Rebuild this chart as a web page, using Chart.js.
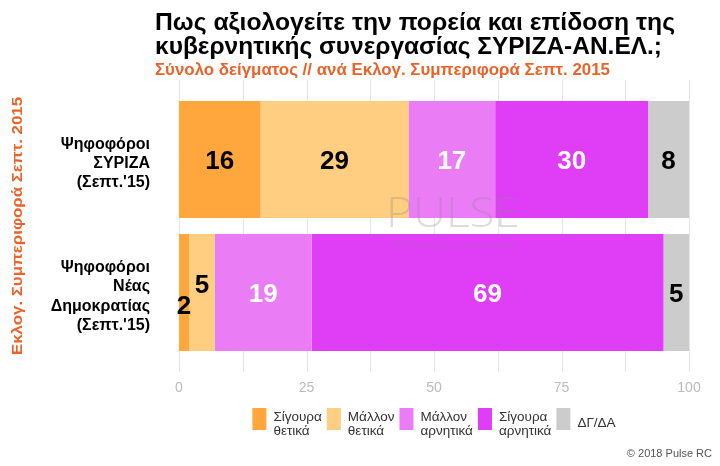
<!DOCTYPE html>
<html>
<head>
<meta charset="utf-8">
<script src="https://cdn.jsdelivr.net/npm/chart.js@4.4.0/dist/chart.umd.min.js"></script>
<style>
html,body{margin:0;padding:0;background:#fff;}
#wrap{width:720px;height:466px;position:relative;}
</style>
</head>
<body>
<div id="wrap"><canvas id="c" width="720" height="466"></canvas></div>
<script>
// ---- data ----
const categories = [
  ['Ψηφοφόροι', 'ΣΥΡΙΖΑ', "(Σεπτ.'15)"],
  ['Ψηφοφόροι', 'Νέας', 'Δημοκρατίας', "(Σεπτ.'15)"]
];
const seriesNames = [
  ['Σίγουρα', 'θετικά'],
  ['Μάλλον', 'θετικά'],
  ['Μάλλον', 'αρνητικά'],
  ['Σίγουρα', 'αρνητικά'],
  ['ΔΓ/ΔΑ']
];
const sureFavorable     = [16, 2];
const ratherFavorable   = [29, 5];
const ratherUnfavorable = [17, 19];
const sureUnfavorable   = [30, 69];
const dontKnow          = [8, 5];
const xTickLabels = [0, 25, 50, 75, 100];

const titleLines = ['Πως αξιολογείτε την πορεία και επίδοση της', 'κυβερνητικής συνεργασίας ΣΥΡΙΖΑ-ΑΝ.ΕΛ.;'];
const subtitle = 'Σύνολο δείγματος // ανά Εκλογ. Συμπεριφορά Σεπτ. 2015';
const yTitle = 'Εκλογ. Συμπεριφορά Σεπτ. 2015';
const credit = '© 2018 Pulse RC';

// ---- styles ----
const colors = ['#FFA63D', '#FFCE80', '#EA7CF6', '#E03DF6', '#CCCCCC'];
const labelColors = ['#000000', '#000000', '#FFFFFF', '#FFFFFF', '#000000'];
const FONT = '"Liberation Sans", Arial, sans-serif';
const ORANGE = '#E8642A';

const seriesValues = [sureFavorable, ratherFavorable, ratherUnfavorable, sureUnfavorable, dontKnow];

const datasets = seriesValues.map((vals, i) => ({
  label: seriesNames[i].join(' '),
  data: vals,
  backgroundColor: colors[i],
  borderWidth: 0,
  barPercentage: 0.88,
  categoryPercentage: 1.0
}));

function drawFitted(ctx, text, x, y, targetW) {
  const w = ctx.measureText(text).width;
  ctx.save();
  ctx.translate(x, y);
  ctx.scale(targetW / w, 1);
  ctx.fillText(text, 0, 0);
  ctx.restore();
}

const gridPlugin = {
  id: 'gridPlugin',
  beforeDatasetsDraw(chart) {
    const ctx = chart.ctx, xs = chart.scales.x, ca = chart.chartArea;
    const band = (ca.bottom - ca.top) / categories.length;
    const top = ca.top - 0.1 * band, bottom = ca.bottom + 0.1 * band;
    ctx.save();
    ctx.strokeStyle = '#E6E6E6';
    ctx.lineWidth = 1;
    for (let v = xs.min; v <= xs.max + 0.001; v += 12.5) {
      const x = Math.round(xs.getPixelForValue(v)) + 0.5;
      ctx.beginPath();
      ctx.moveTo(x, top);
      ctx.lineTo(x, bottom);
      ctx.stroke();
    }
    ctx.restore();
  }
};

const labelPlugin = {
  id: 'labelPlugin',
  afterDatasetsDraw(chart) {
    const ctx = chart.ctx;
    ctx.save();
    // faint watermark over bars
    ctx.fillStyle = 'rgba(140,140,140,0.3)';
    ctx.font = '300 42px "Open Sans", ' + FONT;
    ctx.textBaseline = 'alphabetic';
    ctx.textAlign = 'left';
    drawFitted(ctx, 'PULSE', 386, 227, 134);
    ctx.font = '7px ' + FONT;
    drawFitted(ctx, 'RESEARCH & CONSULTING', 390, 248, 128);

    ctx.font = 'bold 26px ' + FONT;
    ctx.textAlign = 'center';
    ctx.textBaseline = 'middle';
    chart.data.datasets.forEach((ds, di) => {
      const meta = chart.getDatasetMeta(di);
      meta.data.forEach((el, idx) => {
        const v = ds.data[idx];
        const cx = (el.x + el.base) / 2;
        let cy = el.y + 2;
        const prev = di > 0 ? chart.data.datasets[di - 1].data[idx] : 100;
        const next = di < chart.data.datasets.length - 1 ? chart.data.datasets[di + 1].data[idx] : 100;
        if (v < 6 && next < 6) cy += 12;
        else if (v < 6 && prev < 6) cy -= 9;
        ctx.fillStyle = labelColors[di];
        ctx.fillText(String(v), cx, cy);
      });
    });
    ctx.restore();
  }
};

const decorPlugin = {
  id: 'decorPlugin',
  afterDraw(chart) {
    const ctx = chart.ctx, ca = chart.chartArea;
    ctx.save();
    // title
    ctx.fillStyle = '#000';
    ctx.textAlign = 'left';
    ctx.textBaseline = 'alphabetic';
    ctx.font = 'bold 24px ' + FONT;
    drawFitted(ctx, titleLines[0], 155, 29.5, 520);
    drawFitted(ctx, titleLines[1], 155, 53.5, 507);
    ctx.fillStyle = ORANGE;
    ctx.font = 'bold 16px ' + FONT;
    drawFitted(ctx, subtitle, 155, 75, 455);
    // y axis title
    ctx.save();
    ctx.translate(22, (ca.top + ca.bottom) / 2);
    ctx.rotate(-Math.PI / 2);
    ctx.textAlign = 'left';
    ctx.font = 'bold 15px ' + FONT;
    ctx.fillStyle = ORANGE;
    drawFitted(ctx, yTitle, -129, 0, 258);
    ctx.restore();
    // legend
    ctx.font = '13.5px ' + FONT;
    ctx.textBaseline = 'alphabetic';
    const boxW = 14, boxH = 22, gapTxt = 7, gapItem = 5;
    const widths = seriesNames.map(n => Math.max(...n.map(s => ctx.measureText(s).width)));
    const total = widths.reduce((a, w) => a + boxW + gapTxt + w + gapItem, 0) - gapItem;
    let x = (ca.left + ca.right) / 2 - total / 2;
    const boxTop = 408;
    seriesNames.forEach((n, i) => {
      ctx.fillStyle = colors[i];
      ctx.fillRect(x, boxTop, boxW, boxH);
      ctx.fillStyle = '#333';
      const tx = x + boxW + gapTxt;
      if (n.length === 2) {
        ctx.fillText(n[0], tx, boxTop + 13);
        ctx.fillText(n[1], tx, boxTop + 27);
      } else {
        ctx.fillText(n[0], tx, boxTop + 19);
      }
      x = tx + widths[i] + gapItem;
    });
    // credit
    ctx.font = '11px ' + FONT;
    ctx.fillStyle = '#555';
    ctx.textAlign = 'right';
    ctx.fillText(credit, 712, 457);
    ctx.restore();
  }
};

new Chart(document.getElementById('c'), {
  type: 'bar',
  data: { labels: categories, datasets },
  options: {
    indexAxis: 'y',
    responsive: false,
    animation: false,
    events: [],
    layout: { padding: { top: 93, right: 31, left: 0, bottom: 0 } },
    plugins: { legend: { display: false }, tooltip: { enabled: false }, title: { display: false } },
    scales: {
      x: {
        type: 'linear',
        stacked: true,
        min: 0, max: 100,
        grid: { display: false },
        border: { display: false },
        afterFit(scale) { scale.height = 107; },
        afterBuildTicks(scale) { scale.ticks = xTickLabels.map(v => ({ value: v })); },
        ticks: {
          autoSkip: false,
          maxRotation: 0,
          padding: 13,
          color: '#BBBBBB',
          font: { size: 14, family: FONT },
          callback: v => String(v)
        }
      },
      y: {
        type: 'category',
        stacked: true,
        grid: { display: false, drawTicks: false },
        border: { display: false },
        afterFit(scale) { scale.width = 179; },
        ticks: {
          padding: 29,
          labelOffset: 4,
          color: '#000',
          font: { size: 16, weight: 'bold', family: FONT, lineHeight: 1.2 }
        }
      }
    }
  },
  plugins: [gridPlugin, decorPlugin, labelPlugin]
});
</script>
</body>
</html>
